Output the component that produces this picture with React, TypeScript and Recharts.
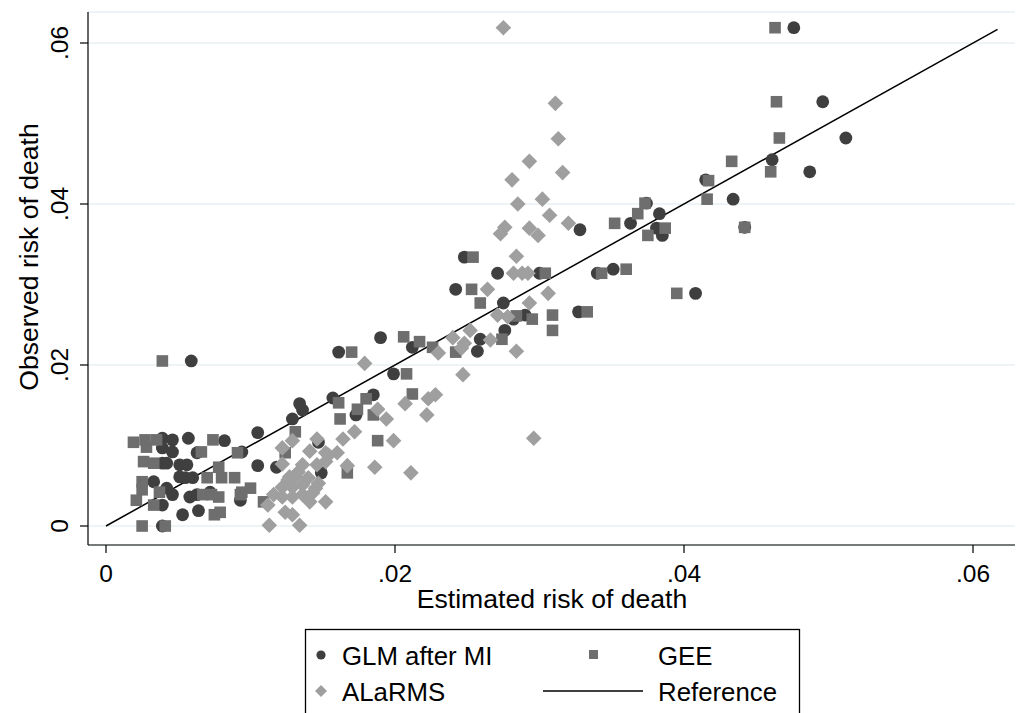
import React from "react";
import { ScatterChart, Scatter, XAxis, YAxis, CartesianGrid, ReferenceLine } from "recharts";

// [estimated, observed]
const glmAfterMI: [number, number][] = [
  [0.0059, 0.0205], [0.0476, 0.0619], [0.0496, 0.0527], [0.0512, 0.0482], [0.0461, 0.0455],
  [0.0487, 0.044], [0.0442, 0.0371], [0.0415, 0.043], [0.0434, 0.0406], [0.0374, 0.0401],
  [0.0383, 0.0388], [0.0363, 0.0376], [0.0381, 0.037], [0.0385, 0.0361], [0.0328, 0.0368],
  [0.034, 0.0314], [0.0351, 0.0319], [0.0408, 0.0289], [0.0248, 0.0334], [0.0271, 0.0314],
  [0.03, 0.0314], [0.0242, 0.0294], [0.0275, 0.0277], [0.0282, 0.0257], [0.029, 0.0262],
  [0.0327, 0.0266], [0.0276, 0.0243], [0.0259, 0.0232], [0.0257, 0.0217], [0.019, 0.0234],
  [0.0212, 0.0222], [0.0161, 0.0216], [0.0199, 0.0189], [0.0185, 0.0163], [0.0157, 0.0159],
  [0.0134, 0.0152], [0.0136, 0.0144], [0.0173, 0.0138], [0.0129, 0.0133], [0.0105, 0.0116],
  [0.0147, 0.0104], [0.0094, 0.0092], [0.0105, 0.0075], [0.0118, 0.0073], [0.0149, 0.0066],
  [0.0093, 0.0032], [0.0039, 0.0109], [0.0046, 0.0107], [0.0057, 0.0109], [0.0082, 0.0106],
  [0.0039, 0.0097], [0.0046, 0.0092], [0.0063, 0.0091], [0.0039, 0.0078], [0.0042, 0.0078],
  [0.0051, 0.0076], [0.0056, 0.0076], [0.0033, 0.0055], [0.0051, 0.0061], [0.0055, 0.006],
  [0.006, 0.006], [0.0042, 0.0047], [0.0046, 0.0039], [0.0039, 0.0026], [0.0058, 0.0036],
  [0.0063, 0.0039], [0.0053, 0.0014], [0.0064, 0.0019], [0.0039, 0], [0.0072, 0.0042],
];

const gee: [number, number][] = [
  [0.0039, 0.0205], [0.0463, 0.0619], [0.0464, 0.0527], [0.0466, 0.0482], [0.046, 0.044],
  [0.0442, 0.0371], [0.0433, 0.0453], [0.0417, 0.0429], [0.0416, 0.0406], [0.0373, 0.0401],
  [0.0368, 0.0388], [0.0352, 0.0376], [0.0387, 0.037], [0.0375, 0.0361], [0.0343, 0.0314],
  [0.036, 0.0319], [0.0395, 0.0289], [0.0254, 0.0334], [0.0304, 0.0314], [0.0253, 0.0294],
  [0.0259, 0.0277], [0.0284, 0.0261], [0.0295, 0.0257], [0.0309, 0.0262], [0.0333, 0.0266],
  [0.0309, 0.0243], [0.0274, 0.0232], [0.0217, 0.0229], [0.0226, 0.0222], [0.0242, 0.0216],
  [0.0206, 0.0235], [0.017, 0.0216], [0.0208, 0.0189], [0.0212, 0.0164], [0.018, 0.0158],
  [0.0161, 0.0153], [0.0174, 0.0145], [0.0185, 0.0138], [0.0162, 0.0133], [0.0131, 0.0117],
  [0.0188, 0.0106], [0.0124, 0.0091], [0.0167, 0.0066], [0.01, 0.0047], [0.0094, 0.0042],
  [0.0109, 0.003], [0.0019, 0.0104], [0.0027, 0.0107], [0.0028, 0.0098], [0.0035, 0.0107],
  [0.0026, 0.008], [0.0033, 0.0078], [0.0025, 0.0055], [0.0025, 0.0045], [0.0021, 0.0032],
  [0.0037, 0.0042], [0.0033, 0.0026], [0.0025, 0], [0.0074, 0.0107], [0.0066, 0.0092],
  [0.007, 0.006], [0.0067, 0.0039], [0.0073, 0.0039], [0.0075, 0.0014], [0.0078, 0.0073],
  [0.008, 0.006], [0.0089, 0.006], [0.0093, 0.0039], [0.0078, 0.0036], [0.0079, 0.0017],
  [0.0041, 0], [0.0091, 0.0091],
];

const alarms: [number, number][] = [
  [0.0275, 0.0619], [0.0311, 0.0525], [0.0313, 0.0481], [0.0293, 0.0453], [0.0316, 0.0439],
  [0.0281, 0.043], [0.0302, 0.0406], [0.0285, 0.04], [0.0307, 0.0386], [0.032, 0.0376],
  [0.0276, 0.0371], [0.0273, 0.0363], [0.0293, 0.037], [0.0299, 0.0361], [0.0284, 0.0335],
  [0.0282, 0.0314], [0.0288, 0.0314], [0.0292, 0.0314], [0.0264, 0.0294], [0.0306, 0.0289],
  [0.0293, 0.0277], [0.0271, 0.0262], [0.0278, 0.026], [0.0252, 0.0243], [0.024, 0.0234],
  [0.0266, 0.0231], [0.0248, 0.0227], [0.0246, 0.0221], [0.023, 0.0215], [0.0284, 0.0217],
  [0.0247, 0.0188], [0.0223, 0.0158], [0.0228, 0.0163], [0.0222, 0.0138], [0.0296, 0.0109],
  [0.0179, 0.0202], [0.0188, 0.0145], [0.0194, 0.0133], [0.0207, 0.0152], [0.0172, 0.0117],
  [0.0164, 0.0108], [0.0199, 0.0106], [0.0146, 0.0108], [0.0129, 0.0106], [0.0122, 0.0097],
  [0.0141, 0.0093], [0.0152, 0.0091], [0.016, 0.0091], [0.0122, 0.0077], [0.0136, 0.0076],
  [0.0133, 0.0067], [0.0167, 0.0075], [0.0186, 0.0073], [0.0211, 0.0066], [0.0146, 0.0076],
  [0.0152, 0.008], [0.0154, 0.0088], [0.0127, 0.0061], [0.0131, 0.0061], [0.0126, 0.0057],
  [0.014, 0.006], [0.0147, 0.0053], [0.0122, 0.0048], [0.0129, 0.0048], [0.0136, 0.0051],
  [0.0145, 0.0047], [0.0116, 0.0039], [0.0122, 0.0036], [0.0129, 0.0036], [0.0136, 0.0039],
  [0.0143, 0.0041], [0.0112, 0.0026], [0.0141, 0.003], [0.0152, 0.003], [0.0124, 0.0017],
  [0.0129, 0.0014], [0.0113, 0.0001], [0.0134, 0.0001],
];

const referenceEnd = 0.0617;
const xTicks = [0, 0.02, 0.04, 0.06];
const yTicks = [0, 0.02, 0.04, 0.06];

const GLM_COLOR = "#3f3f3f";
const GEE_COLOR = "#6e6e6e";
const ALARMS_COLOR = "#9f9f9f";
const FONT = "'Liberation Sans', Arial, Helvetica, sans-serif";

const toPoints = (rows: [number, number][]) => rows.map(([x, y]) => ({ x, y }));
const fmt = (v: number) => (v === 0 ? "0" : v.toFixed(2).replace(/^0/, ""));

const circleShape = (props: any) => <circle cx={props.cx} cy={props.cy} r={6.4} fill={GLM_COLOR} />;
const squareShape = (props: any) => (
  <rect x={props.cx - 5.8} y={props.cy - 5.8} width={11.6} height={11.6} fill={GEE_COLOR} />
);
const diamondShape = (props: any) => {
  const { cx, cy } = props;
  const h = 7.8;
  return <polygon points={`${cx},${cy - h} ${cx + h},${cy} ${cx},${cy + h} ${cx - h},${cy}`} fill={ALARMS_COLOR} />;
};

const XTick = ({ x, y, payload }: any) => (
  <text x={x} y={y + 27} textAnchor="middle" fontSize={24.5} fontFamily={FONT} fill="#000">
    {fmt(payload.value)}
  </text>
);

const YTick = ({ y, payload }: any) => (
  <text transform={`translate(68,${y}) rotate(-90)`} textAnchor="middle" fontSize={24.5} fontFamily={FONT} fill="#000">
    {fmt(payload.value)}
  </text>
);

const App = () => {
  return (
    <div style={{ position: "absolute", left: 0, top: 0, width: 1024, height: 713, overflow: "hidden", background: "#fff" }}>
      <ScatterChart width={1024} height={713} margin={{ top: 12, right: 9, bottom: 108, left: 0 }}>
        <CartesianGrid horizontal vertical={false} stroke="#e8f0f2" strokeWidth={1.5} />
        <XAxis
          type="number"
          dataKey="x"
          domain={[-0.001246, 0.062907]}
          ticks={xTicks}
          allowDataOverflow
          height={60}
          tickSize={8}
          axisLine={{ stroke: "#000", strokeWidth: 1.2 }}
          tickLine={{ stroke: "#000", strokeWidth: 1.2 }}
          tick={<XTick />}
        />
        <YAxis
          type="number"
          dataKey="y"
          domain={[-0.00236, 0.06385]}
          ticks={yTicks}
          allowDataOverflow
          width={88}
          tickSize={8}
          axisLine={{ stroke: "#000", strokeWidth: 1.2 }}
          tickLine={{ stroke: "#000", strokeWidth: 1.2 }}
          tick={<YTick />}
        />
        <Scatter name="GLM after MI" data={toPoints(glmAfterMI)} shape={circleShape} isAnimationActive={false} />
        <Scatter name="GEE" data={toPoints(gee)} shape={squareShape} isAnimationActive={false} />
        <Scatter name="ALaRMS" data={toPoints(alarms)} shape={diamondShape} isAnimationActive={false} />
        <ReferenceLine
          segment={[{ x: 0, y: 0 }, { x: referenceEnd, y: referenceEnd }]}
          stroke="#000"
          strokeWidth={1.5}
          ifOverflow="visible"
        />
      </ScatterChart>
      <svg width={1024} height={713} style={{ position: "absolute", left: 0, top: 0, pointerEvents: "none" }}>
        <text x={552} y={608} textAnchor="middle" fontSize={26.6} fontFamily={FONT} fill="#000">
          Estimated risk of death
        </text>
        <text transform="translate(38,257) rotate(-90)" textAnchor="middle" fontSize={26.6} fontFamily={FONT} fill="#000">
          Observed risk of death
        </text>
        {/* legend */}
        <rect x={305.5} y={629.5} width={494} height={110} fill="none" stroke="#000" strokeWidth={1.3} />
        <circle cx={321} cy={655} r={4.6} fill={GLM_COLOR} />
        <text x={342} y={665} fontSize={25.8} fontFamily={FONT} fill="#000">GLM after MI</text>
        <rect x={589} y={650} width={9} height={9} fill={GEE_COLOR} />
        <text x={658} y={665} fontSize={25.8} fontFamily={FONT} fill="#000">GEE</text>
        <polygon points="321,685 327,691 321,697 315,691" fill={ALARMS_COLOR} />
        <text x={342} y={701} fontSize={25.8} fontFamily={FONT} fill="#000">ALaRMS</text>
        <line x1={543} y1={691} x2={643} y2={691} stroke="#000" strokeWidth={1.3} />
        <text x={658} y={701} fontSize={25.8} fontFamily={FONT} fill="#000">Reference</text>
      </svg>
    </div>
  );
};

export default App;
